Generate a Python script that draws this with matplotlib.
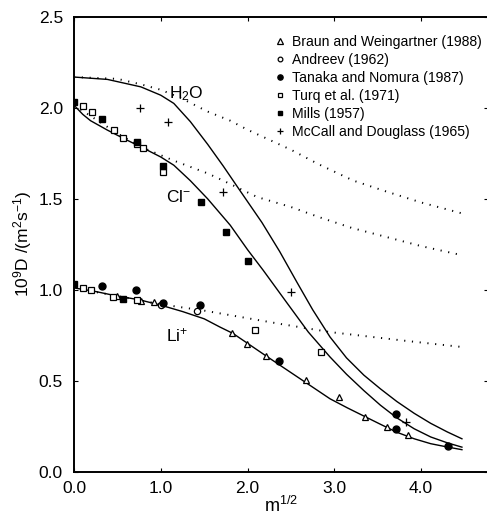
import numpy as np
import matplotlib
matplotlib.use("Agg")
import matplotlib.pyplot as plt

plt.rcParams['font.family'] = ['Liberation Sans', 'DejaVu Sans']
plt.rcParams['mathtext.fontset'] = 'custom'
plt.rcParams['mathtext.rm'] = 'Liberation Sans'
plt.rcParams['mathtext.it'] = 'Liberation Sans'

# model curves (solid)
h2o_x = [0.0, 0.385, 0.77, 1.0, 1.15, 1.34, 1.54, 1.72, 1.92, 2.165, 2.37, 2.57,
         2.75, 2.95, 3.14, 3.34, 3.53, 3.72, 3.92, 4.11, 4.3, 4.47]
h2o_y = [2.17, 2.157, 2.116, 2.07, 2.025, 1.925, 1.80, 1.68, 1.54, 1.37, 1.21, 1.04,
         0.89, 0.74, 0.625, 0.53, 0.455, 0.385, 0.32, 0.265, 0.218, 0.18]
cl_x = [0.0, 0.1, 0.19, 0.385, 0.58, 0.77, 1.0, 1.15, 1.34, 1.54, 1.80, 2.0, 2.18,
        2.45, 2.70, 2.95, 3.14, 3.34, 3.53, 3.72, 3.92, 4.11, 4.3, 4.47]
cl_y = [2.015, 1.965, 1.93, 1.878, 1.83, 1.786, 1.73, 1.685, 1.60, 1.50, 1.355, 1.22,
        1.107, 0.93, 0.767, 0.63, 0.535, 0.445, 0.365, 0.295, 0.235, 0.19, 0.158, 0.134]
li_x = [0.0, 0.25, 0.5, 0.75, 1.0, 1.25, 1.5, 1.68, 1.83, 2.0, 2.2, 2.45, 2.7, 2.95,
        3.15, 3.34, 3.53, 3.72, 3.92, 4.11, 4.3, 4.47]
li_y = [1.01, 0.99, 0.965, 0.945, 0.915, 0.88, 0.84, 0.795, 0.76, 0.705, 0.64, 0.56,
        0.48, 0.40, 0.35, 0.305, 0.26, 0.216, 0.18, 0.153, 0.135, 0.12]

# dilute-limit curves (dotted)
h2o_dot_x = [0.0, 0.5, 0.77, 1.0, 1.25, 1.54, 1.80, 2.0, 2.5, 2.82, 3.22, 3.6, 4.0, 4.47]
h2o_dot_y = [2.17, 2.16, 2.13, 2.10, 2.05, 1.98, 1.93, 1.88, 1.77, 1.69, 1.60, 1.54, 1.48, 1.42]
cl_dot_x = [0.0, 0.5, 0.77, 1.0, 1.15, 1.34, 1.54, 1.72, 2.11, 2.5, 2.82, 3.2, 3.6, 4.0, 4.47]
cl_dot_y = [2.015, 1.86, 1.786, 1.74, 1.71, 1.676, 1.64, 1.60, 1.51, 1.455, 1.40, 1.34,
            1.29, 1.24, 1.19]
li_dot_x = [0.0, 0.5, 1.0, 1.5, 1.8, 2.4, 2.95, 3.26, 3.8, 4.47]
li_dot_y = [1.01, 0.965, 0.92, 0.885, 0.86, 0.81, 0.767, 0.75, 0.72, 0.685]

# experimental points
braun_x = [0.49, 0.77, 0.92, 1.82, 1.99, 2.21, 2.67, 3.05, 3.35, 3.61, 3.85]
braun_y = [0.965, 0.94, 0.93, 0.76, 0.70, 0.635, 0.505, 0.41, 0.30, 0.245, 0.20]
andreev_x = [1.00, 1.42]
andreev_y = [0.915, 0.885]
tanaka_x = [0.32, 0.71, 1.02, 1.45, 2.36, 3.71, 3.71, 4.31]
tanaka_y = [1.02, 1.00, 0.925, 0.914, 0.61, 0.315, 0.235, 0.14]
turq_x = [0.10, 0.21, 0.46, 0.56, 0.72, 0.80, 1.02, 0.10, 0.20, 0.45, 0.72, 2.08, 2.85]
turq_y = [2.01, 1.98, 1.88, 1.835, 1.80, 1.78, 1.65, 1.01, 1.00, 0.96, 0.945, 0.78, 0.655]
mills_x = [0.0, 0.32, 0.72, 1.03, 1.46, 1.75, 2.01, 0.0, 0.56]
mills_y = [2.03, 1.94, 1.81, 1.68, 1.48, 1.315, 1.16, 1.03, 0.95]
mccall_x = [0.76, 1.08, 1.715, 2.50, 3.82]
mccall_y = [2.00, 1.92, 1.54, 0.99, 0.27]

fig = plt.figure(figsize=(4.87, 5.17), dpi=100)
ax = fig.add_axes([0.152, 0.088, 0.850, 0.879])

for xs, ys in ((h2o_x, h2o_y), (cl_x, cl_y), (li_x, li_y)):
    ax.plot(xs, ys, color='black', lw=1.0)
for xs, ys in ((h2o_dot_x, h2o_dot_y), (cl_dot_x, cl_dot_y), (li_dot_x, li_dot_y)):
    ax.plot(xs, ys, color='black', lw=1.4, linestyle=(0, (0.6, 3.4)))

ax.plot(braun_x, braun_y, '^', ms=5, mfc='white', mec='black', mew=0.9, ls='none',
        label='Braun and Weingartner (1988)')
ax.plot(andreev_x, andreev_y, 'o', ms=4.5, mfc='white', mec='black', mew=0.9, ls='none',
        label='Andreev (1962)')
ax.plot(tanaka_x, tanaka_y, 'o', ms=5, color='black', ls='none',
        label='Tanaka and Nomura (1987)')
ax.plot(turq_x, turq_y, 's', ms=4.3, mfc='white', mec='black', mew=0.9, ls='none',
        label='Turq et al. (1971)')
ax.plot(mills_x, mills_y, 's', ms=4.5, color='black', ls='none',
        label='Mills (1957)')
ax.plot(mccall_x, mccall_y, '+', ms=5.5, color='black', mew=0.9, ls='none',
        label='McCall and Douglass (1965)')

ax.text(1.10, 2.08, r'H$_2$O', fontsize=12.5, va='center', ha='left')
ax.text(1.06, 1.51, r'Cl$^{\mathrm{-}}$', fontsize=12.5, va='center', ha='left')
ax.text(1.06, 0.75, r'Li$^{+}$', fontsize=12.5, va='center', ha='left')

ax.set_xlim(0, 4.77)
ax.set_ylim(0, 2.5)
ax.set_xticks([0, 1, 2, 3, 4])
ax.set_xticklabels(['0.0', '1.0', '2.0', '3.0', '4.0'])
ax.set_yticks([0, 0.5, 1.0, 1.5, 2.0, 2.5])
ax.set_yticklabels(['0.0', '0.5', '1.0', '1.5', '2.0', '2.5'])
ax.tick_params(direction='in', length=3, width=0.8, labelsize=12.5, top=True, right=True)
ax.tick_params(axis='x', pad=7)
ax.tick_params(axis='y', pad=8)
for s in ax.spines.values():
    s.set_linewidth(1.4)

ax.set_xlabel(r'm$^{1/2}$', fontsize=13, labelpad=0)
ax.set_ylabel(r'10$^9$D /(m$^2$s$^{-1}$)', fontsize=12.5, labelpad=3)

ax.legend(loc='upper left', bbox_to_anchor=(0.47, 0.972), frameon=False, fontsize=10.1,
          handlelength=0.8, handletextpad=0.5, labelspacing=0.28, borderaxespad=0,
          markerscale=0.75)

fig.savefig('out.png', dpi=100)
